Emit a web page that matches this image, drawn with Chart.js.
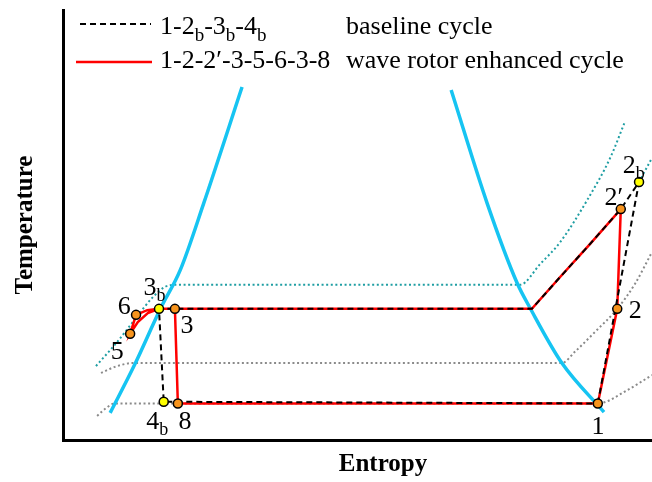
<!DOCTYPE html>
<html>
<head>
<meta charset="utf-8">
<script src="https://cdn.jsdelivr.net/npm/chart.js@4/dist/chart.umd.min.js"></script>
<style>
  html, body { margin: 0; padding: 0; background: #fff; }
  #c { display: block; }
</style>
</head>
<body>
<canvas id="c" width="652" height="482"></canvas>
<script>
// Qualitative T-s diagram of a refrigeration cycle (entropy and temperature in relative units, 0-100).

// Saturation dome: liquid and vapour branches
const liquidS = [8.0, 12.05, 16.6, 19.9, 23.9, 30.4];
const liquidT = [6.3, 17.2, 30.7, 39.5, 55.1, 82.1];
const vaporS  = [65.9, 72.0, 77.1, 79.3, 84.7, 91.85];
const vaporT  = [81.4, 55.1, 36.5, 30.7, 17.9, 6.5];

// Isobars (dotted)
const highPS = [5.6, 9.2, 12.4, 15.1, 17.3, 19.0, 77.6, 81.0, 84.4, 89.0, 92.9, 95.4];
const highPT = [17.2, 22.8, 28.4, 33.0, 35.6, 36.1, 36.1, 40.9, 46.0, 55.8, 65.6, 74.0];
const condPS = [97.8, 100];
const condPT = [60.0, 65.6];
const midPS  = [6.45, 8.8, 11.9, 84.7, 86.9, 90.3, 94.1, 97.1, 100];
const midPT  = [15.6, 17.0, 17.9, 17.9, 20.5, 25.1, 30.5, 36.3, 43.7];
const lowPS  = [5.8, 7.3, 8.8, 90.8, 95.8, 100];
const lowPT  = [5.6, 7.4, 8.5, 8.5, 11.6, 15.1];

// Cycle state points
const stateNames = ['1', '2', '2′', '2b', '3', '3b', '5', '6', '4b', '8'];
const stateS     = [90.8, 94.1, 94.7, 97.8, 19.0, 16.3, 11.4, 12.4, 17.1, 19.5];
const stateT     = [8.5, 30.5, 53.7, 60.0, 30.5, 30.5, 24.7, 29.1, 8.9, 8.5];
const orangeStates = ['1', '2', '2′', '3', '5', '6', '8'];
const yellowStates = ['2b', '3b', '4b'];

// Desuperheating path from 2′ down to the saturated vapour line
const desupS = [89.5, 84.4, 79.6];
const desupT = [45.6, 37.9, 30.5];

// Wave rotor loop 3-5-6-3 (intermediate points on the curved legs)
const loopOutS = [14.4, 12.7];
const loopOutT = [29.5, 27.4];
const loopBackS = [14.3];
const loopBackT = [30.2];

// Legend rows
const legendKeys = [
  [['1-2', 0], ['b', 1], ['-3', 0], ['b', 1], ['-4', 0], ['b', 1]],
  [['1-2-2′-3-5-6-3-8', 0]]
];
const legendNames = ['baseline cycle', 'wave rotor enhanced cycle'];

// State label placement (offset of the main glyph centre from the marker, px)
const labelOffsets = {
  '1': [0, 22], '2': [18, 0], '2′': [-10, -13], '2b': [-10, -18],
  '3': [12, 15], '3b': [-9, -23], '5': [-13, 16], '6': [-12, -10],
  '4b': [-11, 18], '8': [7, 17]
};

const pts = (xs, ys) => xs.map((x, i) => ({ x, y: ys[i] }));
const P = name => { const i = stateNames.indexOf(name); return { x: stateS[i], y: stateT[i] }; };

const baselinePath = [P('1'), P('2b'), P('2′'), ...pts(desupS, desupT), P('3b'), P('4b'), P('1')];
const enhancedPath = [P('1'), P('2'), P('2′'), ...pts(desupS, desupT), P('3'), P('8'), P('1')];
const loopPath = [P('3'), P('3b'), ...pts(loopOutS, loopOutT), P('5'), P('6'), ...pts(loopBackS, loopBackT), P('3b')];

const SERIF = '"Liberation Serif", "Times New Roman", Times, serif';
const CYAN = '#16c4f2';
const TEAL = '#1f9ea3';
const GREY = '#8a8a8a';

function dotted(data, color) {
  return { data, borderColor: color, borderWidth: 2, borderDash: [2, 2.6], pointRadius: 0,
           showLine: true, fill: false, cubicInterpolationMode: 'monotone', order: 5 };
}

function richText(ctx, parts, x, y, size, subSize, shift) {
  let cx = x;
  for (const [t, sub] of parts) {
    ctx.font = (sub ? subSize : size) + 'px ' + SERIF;
    ctx.fillText(t, cx, sub ? y + shift : y);
    cx += ctx.measureText(t).width;
  }
}

const annotate = {
  id: 'annotate',
  afterDraw(chart) {
    const { ctx, scales: { x, y } } = chart;
    ctx.save();
    ctx.fillStyle = '#000';
    ctx.textBaseline = 'alphabetic';
    ctx.textAlign = 'left';

    // state labels
    stateNames.forEach((name, i) => {
      const [dx, dy] = labelOffsets[name];
      const px = x.getPixelForValue(stateS[i]) + dx;
      const py = y.getPixelForValue(stateT[i]) + dy;
      const parts = name.length > 1 && name[1] === 'b' ? [[name[0], 0], ['b', 1]] : [[name, 0]];
      richText(ctx, parts, px - 6.4, py + 8.8, 26, 18, 6);
    });

    // legend
    const rowY = [34, 68];
    ctx.lineWidth = 2;
    ctx.strokeStyle = '#000';
    ctx.setLineDash([6, 4]);
    ctx.beginPath(); ctx.moveTo(80, 24); ctx.lineTo(151, 24); ctx.stroke();
    ctx.setLineDash([]);
    ctx.lineWidth = 2.5;
    ctx.strokeStyle = '#ff0000';
    ctx.beginPath(); ctx.moveTo(76, 62); ctx.lineTo(152, 62); ctx.stroke();
    legendKeys.forEach((parts, r) => {
      richText(ctx, parts, 160, rowY[r], 26, 19, 7);
      richText(ctx, [[legendNames[r], 0]], 346, rowY[r], 26, 19, 7);
    });

    // axis titles
    ctx.font = 'bold 25px ' + SERIF;
    ctx.textAlign = 'center';
    ctx.textBaseline = 'middle';
    ctx.fillText('Entropy', 383, 465);
    ctx.translate(26, 225);
    ctx.rotate(-Math.PI / 2);
    ctx.fillText('Temperature', 0, 0);
    ctx.restore();
  }
};

new Chart(document.getElementById('c'), {
  type: 'scatter',
  data: {
    datasets: [
      // markers
      { data: orangeStates.map(P), backgroundColor: '#f7941d', borderColor: '#000', borderWidth: 1.5,
        pointRadius: 4.5, showLine: false, order: 0 },
      { data: yellowStates.map(P), backgroundColor: '#ffff00', borderColor: '#000', borderWidth: 1.5,
        pointRadius: 4.5, showLine: false, order: 0 },
      // baseline cycle (dashed)
      { data: baselinePath, borderColor: '#000', borderWidth: 2, borderDash: [6, 4], pointRadius: 0,
        showLine: true, tension: 0, order: 1 },
      // wave rotor enhanced cycle (solid red)
      { data: enhancedPath, borderColor: '#ff0000', borderWidth: 2.5, pointRadius: 0,
        showLine: true, tension: 0, order: 2 },
      { data: loopPath, borderColor: '#ff0000', borderWidth: 2.5, pointRadius: 0,
        showLine: true, tension: 0, order: 2 },
      // saturation dome
      { data: pts(liquidS, liquidT), borderColor: CYAN, borderWidth: 3.5, pointRadius: 0,
        showLine: true, cubicInterpolationMode: 'monotone', order: 3 },
      { data: pts(vaporS.slice().reverse(), vaporT.slice().reverse()), borderColor: CYAN, borderWidth: 3.5,
        pointRadius: 0, showLine: true, cubicInterpolationMode: 'monotone', order: 3 },
      // isobars
      dotted(pts(highPS, highPT), TEAL),
      dotted(pts(condPS, condPT), TEAL),
      dotted(pts(midPS, midPT), GREY),
      dotted(pts(lowPS, lowPT), GREY)
    ]
  },
  options: {
    responsive: false,
    animation: false,
    layout: { autoPadding: false, padding: { top: 10, right: 0, left: 0, bottom: 0 } },
    plugins: { legend: { display: false }, tooltip: { enabled: false } },
    scales: {
      x: {
        type: 'linear', min: 0, max: 100,
        ticks: { display: false }, grid: { display: false },
        border: { display: true, color: '#000', width: 3 },
        afterFit(s) { s.height = 42; }
      },
      y: {
        type: 'linear', min: 0, max: 100,
        ticks: { display: false }, grid: { display: false },
        border: { display: true, color: '#000', width: 3 },
        afterFit(s) { s.width = 63; }
      }
    }
  },
  plugins: [annotate]
});
</script>
</body>
</html>
